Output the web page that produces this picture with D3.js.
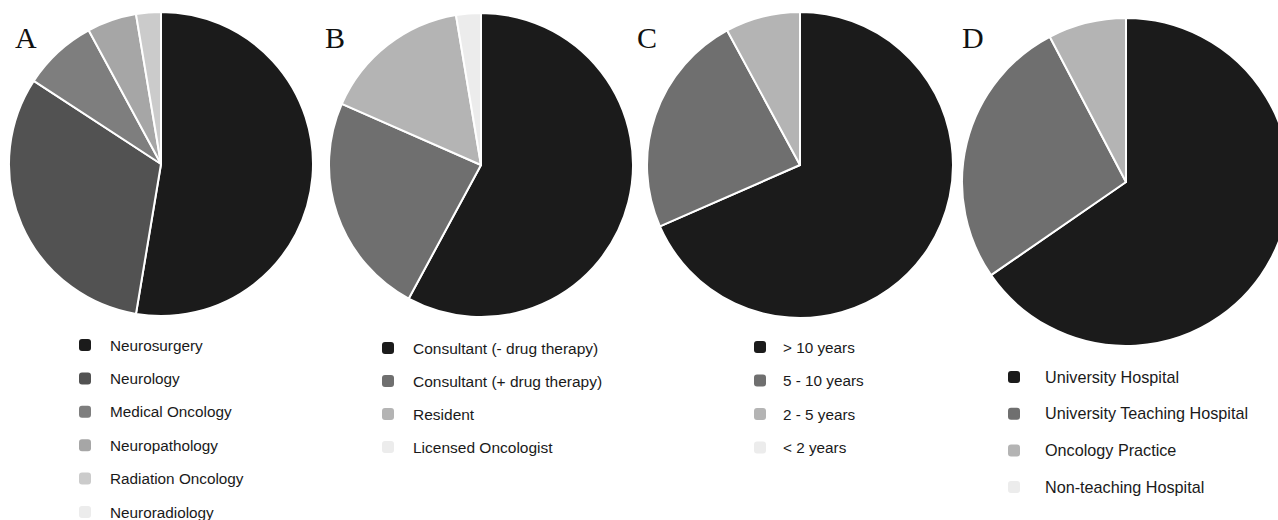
<!DOCTYPE html>
<html>
  <head>
  <title>Survey respondents - pie charts</title>
  <script src="https://cdn.jsdelivr.net/npm/d3@7"></script>
  <style type="text/css">
    body { margin: 0; background: #fff; }
    .legend text { font-family: "Liberation Sans", Arial, sans-serif; fill: #1a1a1a; }
    .panel-label { font-family: "Liberation Serif", "Times New Roman", serif; font-size: 30px; fill: #111; }
  </style>
  </head>
  <body>
  </body>

  <script type="text/javascript">

    // Width and height
    var w = 1278;
    var h = 520;

    // A - specialty
    var labelsA = ["Neurosurgery", "Neurology", "Medical Oncology", "Neuropathology", "Radiation Oncology", "Neuroradiology"];
    var valuesA = [20, 12, 3, 2, 1, 0];
    var coloursA = ["#1b1b1b", "#525252", "#7e7e7e", "#a6a6a6", "#cbcbcb", "#ececec"];

    // B - position
    var labelsB = ["Consultant (- drug therapy)", "Consultant (+ drug therapy)", "Resident", "Licensed Oncologist"];
    var valuesB = [22, 9, 6, 1];
    var coloursB = ["#1b1b1b", "#6f6f6f", "#b4b4b4", "#ececec"];

    // C - experience
    var labelsC = ["> 10 years", "5 - 10 years", "2 - 5 years", "< 2 years"];
    var valuesC = [26, 9, 3, 0];
    var coloursC = ["#1b1b1b", "#6f6f6f", "#b4b4b4", "#ececec"];

    // D - institution
    var labelsD = ["University Hospital", "University Teaching Hospital", "Oncology Practice", "Non-teaching Hospital"];
    var valuesD = [17, 7, 2, 0];
    var coloursD = ["#1b1b1b", "#6f6f6f", "#b4b4b4", "#ececec"];

    var panels = [
      {id: "A", labels: labelsA, values: valuesA, colours: coloursA, fs: 15.3,
       cx: 161, cy: 164, r: 152, lx: 15, ly: 48, legX: 85, legY: 345, legStep: 33.4, textX: 110},
      {id: "B", labels: labelsB, values: valuesB, colours: coloursB, fs: 15.5,
       cx: 481, cy: 165, r: 152, lx: 325, ly: 48, legX: 388, legY: 348, legStep: 33, textX: 413},
      {id: "C", labels: labelsC, values: valuesC, colours: coloursC, fs: 15.3,
       cx: 800, cy: 165, r: 153, lx: 637, ly: 48, legX: 760, legY: 347, legStep: 33.5, textX: 783},
      {id: "D", labels: labelsD, values: valuesD, colours: coloursD, fs: 16.2,
       cx: 1126, cy: 182, r: 164, lx: 962, ly: 48, legX: 1014, legY: 377, legStep: 36.7, textX: 1045}
    ];

    // Create SVG element
    var svg = d3.select("body")
          .append("svg")
          .attr("width", w)
          .attr("height", h);

    var pie = d3.pie().sort(null).value(function(d) { return d; });

    panels.forEach(function(p) {
      var colour = d3.scaleOrdinal().domain(p.labels).range(p.colours);
      var arc = d3.arc().innerRadius(0).outerRadius(p.r);

      var g = svg.append("g")
        .attr("transform", "translate(" + p.cx + "," + p.cy + ")");

      g.selectAll("path")
       .data(pie(p.values).filter(function(d) { return d.value > 0; }))
       .enter()
       .append("path")
       .attr("d", arc)
       .attr("fill", function(d) { return colour(p.labels[d.index]); })
       .attr("stroke", "#fff")
       .attr("stroke-width", 2)
       .attr("stroke-linejoin", "round");

      svg.append("text")
        .attr("class", "panel-label")
        .attr("x", p.lx)
        .attr("y", p.ly)
        .text(p.id);

      var y = d3.scalePoint()
        .domain(p.labels)
        .range([p.legY, p.legY + p.legStep * (p.labels.length - 1)]);

      var leg = svg.append("g").attr("class", "legend");
      var rows = leg.selectAll("g")
        .data(p.labels)
        .enter()
        .append("g")
        .attr("transform", function(d) { return "translate(0," + y(d) + ")"; });

      rows.append("rect")
        .attr("x", p.legX - 6)
        .attr("y", -6)
        .attr("width", 12)
        .attr("height", 12)
        .attr("rx", 3)
        .attr("fill", function(d) { return colour(d); });

      rows.append("text")
        .attr("x", p.textX)
        .attr("y", 5.5)
        .style("font-size", p.fs + "px")
        .text(function(d) { return d; });
    });

  </script>
</html>
